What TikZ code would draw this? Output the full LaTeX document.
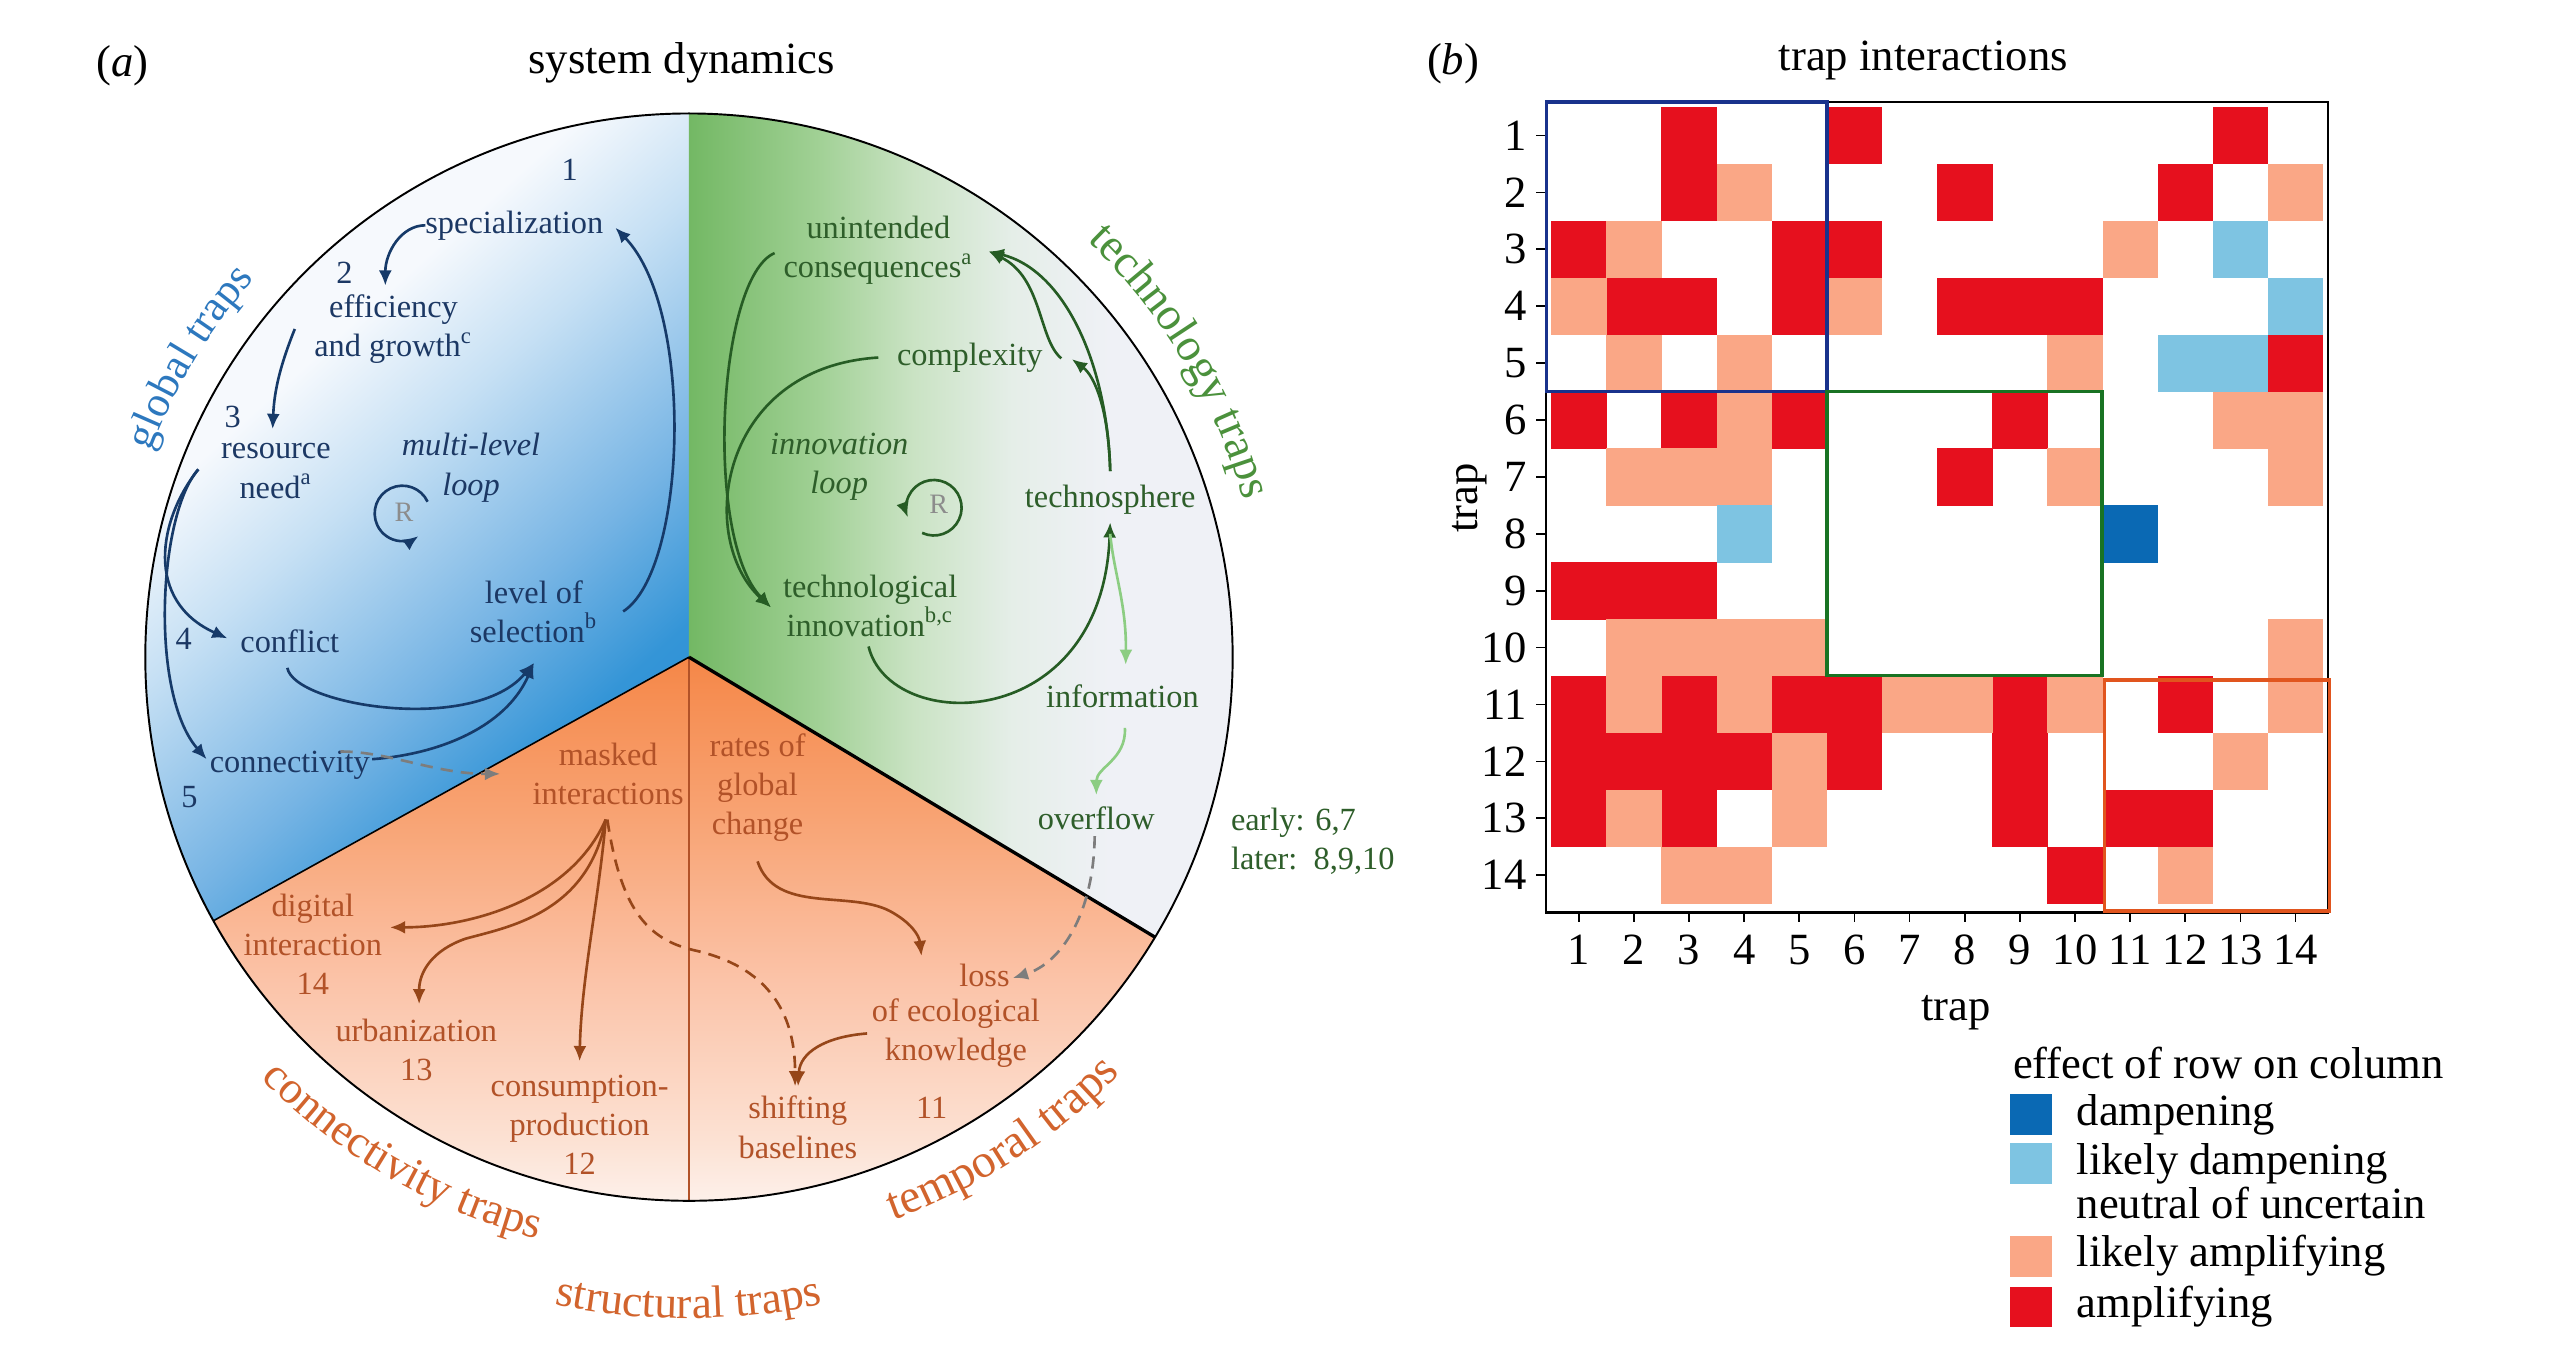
\documentclass[tikz,border=0pt]{standalone}
\usepackage{fontspec}
\setmainfont{Liberation Serif}
\usetikzlibrary{arrows.meta,decorations.text}

\definecolor{bluetext}{RGB}{28,56,100}
\definecolor{bluearr}{RGB}{22,58,105}
\definecolor{gtraps}{RGB}{45,120,190}
\definecolor{greentext}{RGB}{46,94,42}
\definecolor{greenarr}{RGB}{38,92,36}
\definecolor{lgreenarr}{RGB}{140,205,130}
\definecolor{ttraps}{RGB}{75,145,60}
\definecolor{orangetext}{RGB}{178,82,40}
\definecolor{orangearr}{RGB}{150,70,25}
\definecolor{otraps}{RGB}{210,100,45}
\definecolor{greyarr}{RGB}{125,125,125}
\definecolor{rgrey}{RGB}{140,140,140}
\definecolor{bsone}{RGB}{246,249,253}
\definecolor{bstwo}{RGB}{198,224,244}
\definecolor{bsthree}{RGB}{118,180,228}
\definecolor{bsfour}{RGB}{52,149,215}
\definecolor{bsfive}{RGB}{38,140,212}
\definecolor{gsone}{RGB}{115,184,100}
\definecolor{gstwo}{RGB}{160,208,148}
\definecolor{gsthree}{RGB}{202,227,196}
\definecolor{gsfour}{RGB}{229,238,232}
\definecolor{gsfive}{RGB}{239,241,246}
\definecolor{osone}{RGB}{253,240,234}
\definecolor{ostwo}{RGB}{252,226,212}
\definecolor{osthree}{RGB}{251,195,168}
\definecolor{osfour}{RGB}{248,163,115}
\definecolor{osfive}{RGB}{245,135,72}
\definecolor{hmred}{RGB}{230,16,30}
\definecolor{hmorange}{RGB}{250,167,134}
\definecolor{hmlblue}{RGB}{126,196,226}
\definecolor{hmdblue}{RGB}{10,105,180}
\definecolor{boxblue}{RGB}{25,50,140}
\definecolor{boxgreen}{RGB}{25,115,35}
\definecolor{boxorange}{RGB}{225,85,30}

\pgfdeclareverticalshading{bluesh}{100bp}{color(0bp)=(bsfive); color(25bp)=(bsfive); color(34bp)=(bsfour); color(42bp)=(bsthree); color(53.5bp)=(bstwo); color(61.5bp)=(bsone); color(100bp)=(bsone)}
\pgfdeclarehorizontalshading{greensh}{100bp}{color(0bp)=(gsone); color(25bp)=(gsone); color(36.7bp)=(gstwo); color(45.7bp)=(gsthree); color(54.7bp)=(gsfour); color(63.7bp)=(gsfive); color(100bp)=(gsfive)}
\pgfdeclareverticalshading{orangesh}{100bp}{color(0bp)=(osone); color(25bp)=(osone); color(30.3bp)=(ostwo); color(45.3bp)=(osthree); color(60.4bp)=(osfour); color(75bp)=(osfive); color(100bp)=(osfive)}

\newcommand\fBody{\fontsize{9.2pt}{11.15pt}\selectfont}
\newcommand\fTitle{\fontsize{12.7pt}{14pt}\selectfont}
\newcommand\fRR{\fontsize{8pt}{9pt}\selectfont}
\newcommand\hmcell[3]{\fill[#3] ({950.1+(#1-1)*33.77},{764.4-(#2-1)*34.85}) rectangle ++(33.97,-35.05);}

\tikzset{
  lab/.style={inner sep=0pt, outer sep=0pt, align=center, font=\fBody},
  btxt/.style={lab, text=bluetext},
  gtxt/.style={lab, text=greentext},
  otxt/.style={lab, text=orangetext},
  rtxt/.style={inner sep=0pt, font=\fRR, text=rgrey},
  ptxt/.style={inner sep=0pt, outer sep=0pt, font=\fTitle},
  arr/.style={line width=0.75pt, -{Latex[length=4.3pt,width=3.7pt]}},
  barr/.style={arr, draw=bluearr},
  garr/.style={arr, draw=greenarr},
  lgarr/.style={arr, draw=lgreenarr},
  oarr/.style={arr, draw=orangearr},
  odash/.style={oarr, dash pattern=on 3.5pt off 2.3pt},
  gydash/.style={arr, draw=greyarr, dash pattern=on 3.5pt off 2.3pt},
}

\begin{document}
\begin{tikzpicture}[x=0.016327cm,y=0.016327cm]
\useasboundingbox (0,0) rectangle (1568,830);
\fill[white] (0,0) rectangle (1568,830);
\coordinate (C) at (422,427.5);

% ---------- sectors ----------
\begin{scope}
  \clip (C) -- ([shift={(90:333)}]C) arc[start angle=90,end angle=209,radius=333] -- cycle;
  \shade[shading=bluesh,shading angle=42] (7,265) rectangle (507,765);
\end{scope}
\begin{scope}
  \clip (C) -- ([shift={(-31:333)}]C) arc[start angle=-31,end angle=90,radius=333] -- cycle;
  \shade[shading=greensh] (422,250) rectangle (755,765);
\end{scope}
\begin{scope}
  \clip (C) -- ([shift={(209:333)}]C) arc[start angle=209,end angle=329,radius=333] -- cycle;
  \shade[shading=orangesh] (89,94.5) rectangle (755,427.5);
\end{scope}
\draw[orangetext,line width=0.35pt] (C) -- ([shift={(270:333)}]C);
\draw[line width=0.45pt] (C) -- ([shift={(209:333)}]C);
\draw[line width=0.95pt] (C) -- ([shift={(-31:333)}]C);
\draw[line width=0.55pt] (C) circle[radius=333];

% ---------- trap labels along the circle ----------
\path[decorate,decoration={text along path,text align=center,
  text={|\fontsize{12.3pt}{14pt}\selectfont\color{gtraps}|global traps}}]
  ([shift={(171:353)}]C) arc[start angle=171,end angle=127,radius=353];
\path[decorate,decoration={text along path,text align=center,
  text={|\fontsize{13.2pt}{14pt}\selectfont\color{ttraps}|technology traps}}]
  ([shift={(53:353)}]C) arc[start angle=53,end angle=9,radius=353];
\path[decorate,decoration={text along path,text align=center,
  text={|\fontsize{12.9pt}{14pt}\selectfont\color{otraps}|connectivity traps}}]
  ([shift={(218:368)}]C) arc[start angle=218,end angle=262,radius=368];
\path[decorate,decoration={text along path,text align=center,
  text={|\fontsize{13.5pt}{14pt}\selectfont\color{otraps}|temporal traps}}]
  ([shift={(281:367)}]C) arc[start angle=281,end angle=325,radius=367];
\path[decorate,decoration={text along path,text align=center,
  text={|\fontsize{12.9pt}{14pt}\selectfont\color{otraps}|structural traps}}]
  ([shift={(255:405)}]C) arc[start angle=255,end angle=285,radius=405];

% ---------- titles ----------
\node[ptxt] (pa) at (75,790) {(\textit{a})};
\node[ptxt] (sd) at (417.5,791.5) {system dynamics};
\node[ptxt] (pb) at (890,791) {(\textit{b})};
\node[ptxt] (tint) at (1178,793) {trap interactions};

% ---------- blue sector ----------
\node[btxt] (n1) at (349,726) {1};
\node[btxt] (spec) at (315,692) {specialization};
\node[btxt] (n2) at (211,663) {2};
\node[btxt] (eff) at (241,628.5) {efficiency\\and growth\textsuperscript{c}};
\node[btxt] (n3) at (142.5,574.5) {3};
\node[btxt] (res) at (169,541.5) {resource\\need\textsuperscript{a}};
\node[btxt,font=\fBody\itshape] (mll) at (288.5,543.5) {multi-level\\loop};
\node[rtxt] (Rb) at (247.5,516) {R};
\node[btxt] (los) at (327,455.5) {level of\\selection\textsuperscript{b}};
\node[btxt] (n4) at (112.5,439) {4};
\node[btxt] (conf) at (177.5,437.5) {conflict};
\node[btxt] (conn) at (177.5,361) {connectivity};
\node[btxt] (n5) at (116,341.5) {5};

% ---------- green sector ----------
\node[gtxt] (uc) at (538,676.5) {unintended\\consequences\textsuperscript{a}};
\node[gtxt] (cx) at (594,611) {complexity};
\node[gtxt,font=\fBody\itshape] (il) at (514,544) {innovation\\loop};
\node[rtxt] (Rg) at (575,521) {R};
\node[gtxt] (tn) at (680,524) {technosphere};
\node[gtxt] (ti) at (533,459) {technological\\innovation\textsuperscript{b,c}};
\node[gtxt] (info) at (687.5,403.5) {information};
\node[gtxt] (ovf) at (671.5,329) {overflow};
\node[gtxt,anchor=west,align=left] (early) at (754,314.5) {early: 6,7\\later:\ \ 8,9,10};

% ---------- orange sector ----------
\node[otxt] (masked) at (372.5,356) {masked\\interactions};
\node[otxt] (rgc) at (464,347.5) {rates of\\global\\change};
\node[otxt] (dig) at (191.6,251.7) {digital\\interaction\\14};
\node[otxt] (urb) at (255,187) {urbanization\\13};
\node[otxt] (cp) at (355,141) {consumption-\\production\\12};
\node[otxt] (sb) at (488.7,139.6) {shifting\\baselines};
\node[otxt] (loss) at (603,232.5) {loss};
\node[otxt] (oek) at (585.5,197) {of ecological\\knowledge};
\node[otxt] (n11) at (570.7,151.4) {11};

\coordinate (ku) at (285,255);
\coordinate (ks) at (425,248);
\coordinate (kr) at (545,272);

% ---------- blue connectors ----------
\draw[barr] (spec.west) .. controls +(-15,0) and +(0,20) .. ([shift={(-5,5.5)}]eff.north);
\draw[barr] ([shift={(-12,0)}]eff.west) .. controls +(-8,-20) and +(1,25) .. ([shift={(-2,9)}]res.north);
\draw[barr] ([shift={(-14,1)}]res.west) .. controls +(-24.5,-30.5) and +(-51,23) .. ([shift={(-8,1.5)}]conf.west);
\draw[barr] ([shift={(-14,1)}]res.west) .. controls +(-24.5,-27.5) and +(-35,40) .. ([shift={(-2,4)}]conn.west);
\draw[barr] ([shift={(-1.5,-9.5)}]conf.south) .. controls +(4,-23) and +(-37,-44) .. ([shift={(0,-12.5)}]los.south);
\draw[barr] ([shift={(1.5,4)}]conn.east) .. controls +(41.5,3) and +(-17,-39) .. ([shift={(0,-12.5)}]los.south);
\draw[gydash] ([shift={(31,0)}]conn.north) .. controls +(30,0) and +(-40,0) .. ([shift={(-20,0)}]masked.west);
\draw[barr] ([shift={(15.5,0)}]los.east) .. controls +(39,25) and +(49,-50.5) .. ([shift={(7.5,-1.5)}]spec.east);
\draw[barr] ([shift={(14.4,6.7)}]Rb.center) arc[start angle=25,end angle=305,radius=17];

% ---------- green connectors ----------
\draw[garr] ([shift={(-5.5,-1.5)}]uc.west) .. controls +(-35,-15) and +(-41,42) .. ([shift={(-7.5,-1)}]ti.west);
\draw[garr] ([shift={(-11.5,0)}]cx.west) .. controls +(-98,-6) and +(-46,42) .. ([shift={(-7.5,-1)}]ti.west);
\draw[garr] ([shift={(-1,-6)}]ti.south) .. controls +(13,-54) and +(-5,-130) .. ([shift={(0,-5)}]tn.south);
\draw[garr] ([shift={(0,8.5)}]tn.north) .. controls +(-1,39) and +(13.5,-10) .. ([shift={(18,-1)}]cx.east);
\draw[garr] ([shift={(0,8.5)}]tn.north) .. controls +(-2,68.5) and +(45,-11) .. ([shift={(9.5,-0.5)}]uc.east);
\draw[garr] ([shift={(11.5,-0.5)}]cx.east) .. controls +(-14,11.5) and +(33,-16) .. ([shift={(9.5,-0.5)}]uc.east);
\draw[lgarr] ([shift={(0,-12)}]tn.south) .. controls +(2,-23) and +(0.5,37.4) .. ([shift={(2,12.3)}]info.north);
\draw[lgarr] ([shift={(1.5,-12.3)}]info.south) .. controls +(1,-19.4) and +(0,17) .. ([shift={(0,7)}]ovf.north);
\draw[gydash] ([shift={(-1,-4)}]ovf.south) .. controls +(-0.6,-48) and +(29.3,9) .. ([shift={(2,-1.5)}]loss.east);
\draw[garr] ([shift={(-10.2,-17.4)}]Rg.center) arc[start angle=245,end angle=560,radius=17];

% ---------- orange connectors ----------
\draw[oarr] ([shift={(-1.5,-9)}]masked.south) .. controls +(-21,-48) and +(51,0) .. ([shift={(5,10.3)}]dig.east);
\draw[oarr] ([shift={(-1.5,-9)}]masked.south) .. controls +(-11,-58) and +(25,7) .. (ku) .. controls +(-20,-7) and +(0,20) .. ([shift={(1.7,9)}]urb.north);
\draw[oarr] ([shift={(-1.5,-9)}]masked.south) .. controls +(-4,-48) and +(1,50.5) .. ([shift={(0,8.5)}]cp.north);
\draw[odash] ([shift={(-0.5,-9)}]masked.south) .. controls +(8,-53) and +(-30,7) .. (ks) .. controls +(45,-10) and +(0,45.5) .. ([shift={(-1.7,6)}]sb.north);
\draw[oarr] ([shift={(0,-12)}]rgc.south) .. controls +(11,-32.5) and +(-25,13) .. (kr) .. controls +(13,-7) and +(-1.4,12.6) .. ([shift={(-38.6,5)}]loss.north);
\draw[oarr] ([shift={(-3,0)}]oek.west) .. controls +(-26,-2) and +(1.2,20.5) .. ([shift={(0.1,6)}]sb.north);

% ---------- panel (b): heat map ----------
\foreach \cc/\rr in {3/1,6/1,13/1, 3/2,8/2,12/2, 1/3,5/3,6/3, 2/4,3/4,5/4,8/4,9/4,10/4, 14/5,
  1/6,3/6,5/6,9/6, 8/7, 1/9,2/9,3/9, 1/11,3/11,5/11,6/11,9/11,12/11,
  1/12,2/12,3/12,4/12,6/12,9/12, 1/13,3/13,9/13,11/13,12/13, 10/14}
  {\hmcell{\cc}{\rr}{hmred}}
\foreach \cc/\rr in {4/2,14/2, 2/3,11/3, 1/4,6/4, 2/5,4/5,10/5, 4/6,13/6,14/6,
  2/7,3/7,4/7,10/7,14/7, 2/10,3/10,4/10,5/10,14/10, 2/11,4/11,7/11,8/11,10/11,14/11,
  5/12,13/12, 2/13,5/13, 3/14,4/14,12/14}
  {\hmcell{\cc}{\rr}{hmorange}}
\foreach \cc/\rr in {13/3, 14/4, 12/5,13/5, 4/8}
  {\hmcell{\cc}{\rr}{hmlblue}}
\hmcell{11}{8}{hmdblue}

\draw[line width=0.7pt] (947,271) rectangle (1426,767.5);
\foreach \i in {1,...,14} {
  \draw[line width=0.5pt] ({967+(\i-1)*33.77},271) -- ++(0,-6);
  \draw[line width=0.5pt] (947,{747-(\i-1)*34.85}) -- ++(-6,0);
  \node[ptxt] (xt\i) at ({967+(\i-1)*33.77},248) {\i};
  \node[ptxt,anchor=east] (yt\i) at (935,{747-(\i-1)*34.85}) {\i};
}
\draw[boxblue,line width=0.9pt] (947,767.5) rectangle (1119,590);
\draw[boxgreen,line width=0.9pt] (1119,590) rectangle (1287.5,416);
\draw[boxorange,line width=0.9pt] (1289,413.5) rectangle (1427,272);

\node[ptxt] (xlab) at (1198,210) {trap};
\node[ptxt,rotate=90] (ylab) at (900,525) {trap};

% ---------- legend ----------
\node[ptxt,anchor=west] (legh) at (1233,179) {effect of row on column};
\fill[hmdblue] (1231,135) rectangle (1257,160);
\fill[hmlblue] (1231,105) rectangle (1257,130);
\fill[hmorange] (1231,48) rectangle (1257,73);
\fill[hmred] (1231,17) rectangle (1257,42);
\node[ptxt,anchor=west] (lg1) at (1272,147) {dampening};
\node[ptxt,anchor=west] (lg2) at (1272,117) {likely dampening};
\node[ptxt,anchor=west] (lg3) at (1272,93) {neutral of uncertain};
\node[ptxt,anchor=west] (lg4) at (1272,61) {likely amplifying};
\node[ptxt,anchor=west] (lg5) at (1272,30) {amplifying};
\end{tikzpicture}
\end{document}
